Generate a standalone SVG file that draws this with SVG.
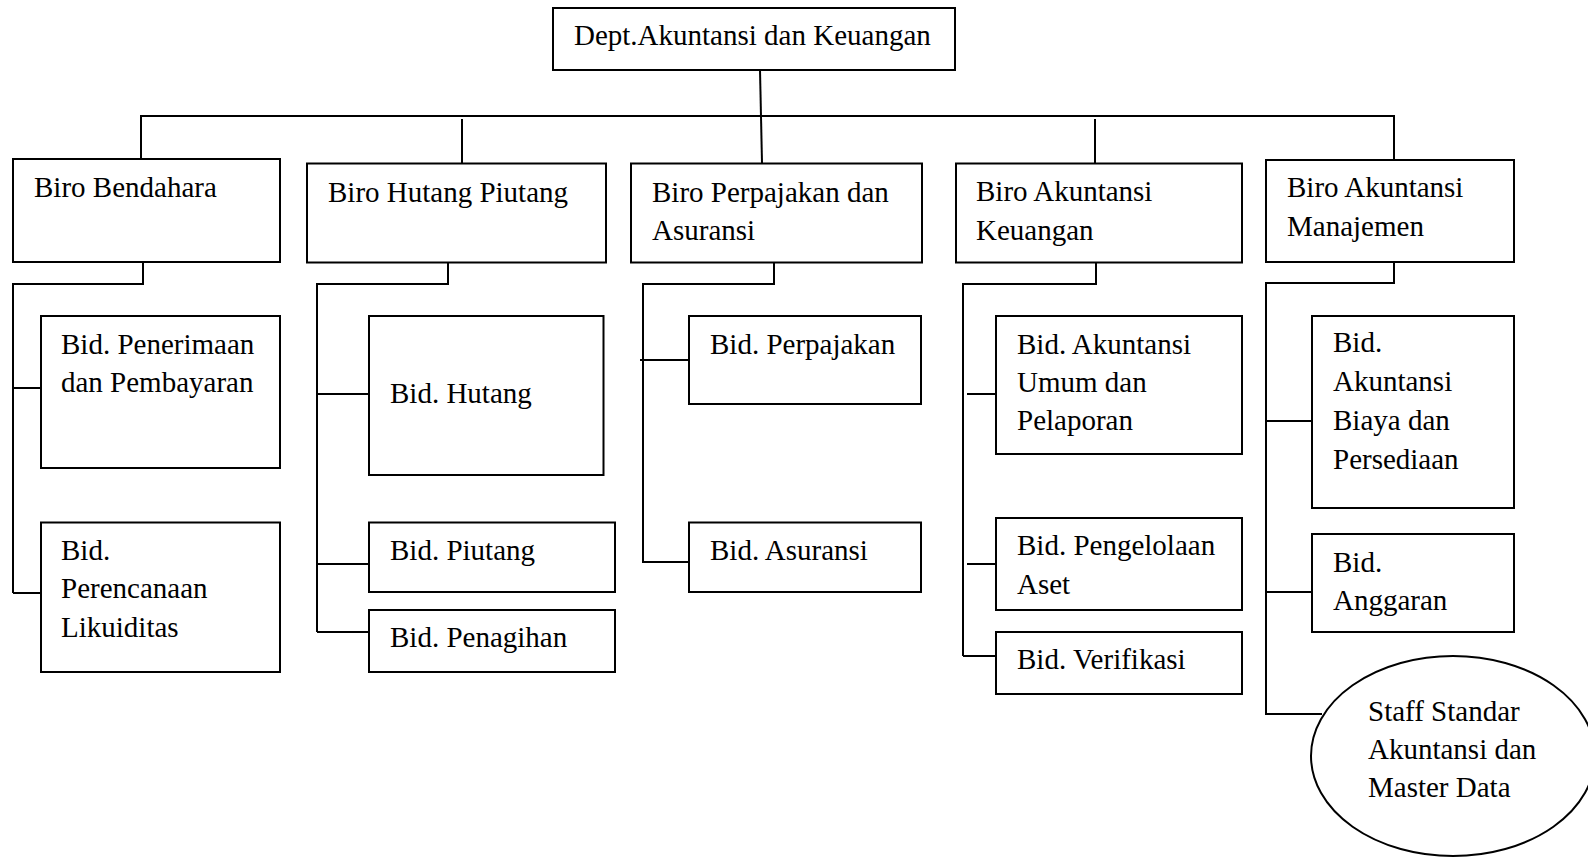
<svg xmlns="http://www.w3.org/2000/svg" width="1588" height="858" viewBox="0 0 1588 858">
<style>
.box{fill:#fff;stroke:#000;stroke-width:2}
.ln{fill:none;stroke:#000;stroke-width:2}
text{font-family:"Liberation Serif","Times New Roman",serif;font-size:29px;fill:#000}
</style>
<rect width="1588" height="858" fill="#fff"/>
<g id="connectors">
<path class="ln" d="M760,70 L762,163"/>
<path class="ln" d="M141,160 L141,116 L1394,116 L1394,160"/>
<path class="ln" d="M462,119 L462,164"/>
<path class="ln" d="M1095,119 L1095,164"/>
<path class="ln" d="M143,262 L143,284 L13,284 L13,593"/>
<path class="ln" d="M13,388 L41,388 M13,593 L41,593"/>
<path class="ln" d="M448,262 L448,284 L317,284 L317,632"/>
<path class="ln" d="M317,394 L369,394 M317,564 L369,564 M317,632 L369,632"/>
<path class="ln" d="M774,262 L774,284 L643,284 L643,563"/>
<path class="ln" d="M640,360 L689,360 M643,562 L689,562"/>
<path class="ln" d="M1096,262 L1096,284 L964,284"/>
<path class="ln" d="M963,283 L963,656"/>
<path class="ln" d="M967,394 L996,394 M967,564 L996,564 M963,656 L996,656"/>
<path class="ln" d="M1394,262 L1394,283 L1266,283 L1266,714 L1322,714"/>
<path class="ln" d="M1266,421 L1312,421 M1266,592 L1312,592"/>
</g>
<g id="dept">
<rect class="box" x="553" y="8" width="402" height="62"/>
<text x="574" y="45">Dept.Akuntansi dan Keuangan</text>
</g>
<g id="biro-bendahara">
<rect class="box" x="13" y="159" width="267" height="103"/>
<text x="34" y="197">Biro Bendahara</text>
</g>
<g id="biro-hutang-piutang">
<rect class="box" x="307" y="163.5" width="299" height="99"/>
<text x="328" y="202">Biro Hutang Piutang</text>
</g>
<g id="biro-perpajakan">
<rect class="box" x="631" y="163.5" width="291" height="99"/>
<text x="652" y="201.5">Biro Perpajakan dan</text>
<text x="652" y="239.5">Asuransi</text>
</g>
<g id="biro-akuntansi-keuangan">
<rect class="box" x="956" y="163.5" width="286" height="99"/>
<text x="976" y="201">Biro Akuntansi</text>
<text x="976" y="239.5">Keuangan</text>
</g>
<g id="biro-akuntansi-manajemen">
<rect class="box" x="1266" y="160" width="248" height="102"/>
<text x="1287" y="197">Biro Akuntansi</text>
<text x="1287" y="235.5">Manajemen</text>
</g>
<g id="bid-penerimaan">
<rect class="box" x="41" y="316" width="239" height="152"/>
<text x="61" y="353.5">Bid. Penerimaan</text>
<text x="61" y="392">dan Pembayaran</text>
</g>
<g id="bid-perencanaan">
<rect class="box" x="41" y="522.5" width="239" height="149.5"/>
<text x="61" y="559.5">Bid.</text>
<text x="61" y="598">Perencanaan</text>
<text x="61" y="636.5">Likuiditas</text>
</g>
<g id="bid-hutang">
<rect class="box" x="369" y="316" width="234.5" height="159"/>
<text x="390" y="403">Bid. Hutang</text>
</g>
<g id="bid-piutang">
<rect class="box" x="369" y="522.5" width="246" height="69.5"/>
<text x="390" y="559.5">Bid. Piutang</text>
</g>
<g id="bid-penagihan">
<rect class="box" x="369" y="610" width="246" height="62"/>
<text x="390" y="646.5">Bid. Penagihan</text>
</g>
<g id="bid-perpajakan">
<rect class="box" x="689" y="316" width="232" height="88"/>
<text x="710" y="354">Bid. Perpajakan</text>
</g>
<g id="bid-asuransi">
<rect class="box" x="689" y="522.5" width="232" height="69.5"/>
<text x="710" y="559.5">Bid. Asuransi</text>
</g>
<g id="bid-akuntansi-umum">
<rect class="box" x="996" y="316" width="246" height="138"/>
<text x="1017" y="353.5">Bid. Akuntansi</text>
<text x="1017" y="392">Umum dan</text>
<text x="1017" y="430">Pelaporan</text>
</g>
<g id="bid-pengelolaan-aset">
<rect class="box" x="996" y="518" width="246" height="92"/>
<text x="1017" y="555">Bid. Pengelolaan</text>
<text x="1017" y="593.5">Aset</text>
</g>
<g id="bid-verifikasi">
<rect class="box" x="996" y="632" width="246" height="62"/>
<text x="1017" y="668.5">Bid. Verifikasi</text>
</g>
<g id="bid-akuntansi-biaya">
<rect class="box" x="1312" y="316" width="202" height="192"/>
<text x="1333" y="352">Bid.</text>
<text x="1333" y="390.5">Akuntansi</text>
<text x="1333" y="430">Biaya dan</text>
<text x="1333" y="469">Persediaan</text>
</g>
<g id="bid-anggaran">
<rect class="box" x="1312" y="534" width="202" height="98"/>
<text x="1333" y="571.5">Bid.</text>
<text x="1333" y="609.5">Anggaran</text>
</g>
<g id="staff-standar">
<ellipse class="box" cx="1453" cy="756" rx="142" ry="100"/>
<text x="1368" y="721">Staff Standar</text>
<text x="1368" y="759">Akuntansi dan</text>
<text x="1368" y="797">Master Data</text>
</g>
</svg>
